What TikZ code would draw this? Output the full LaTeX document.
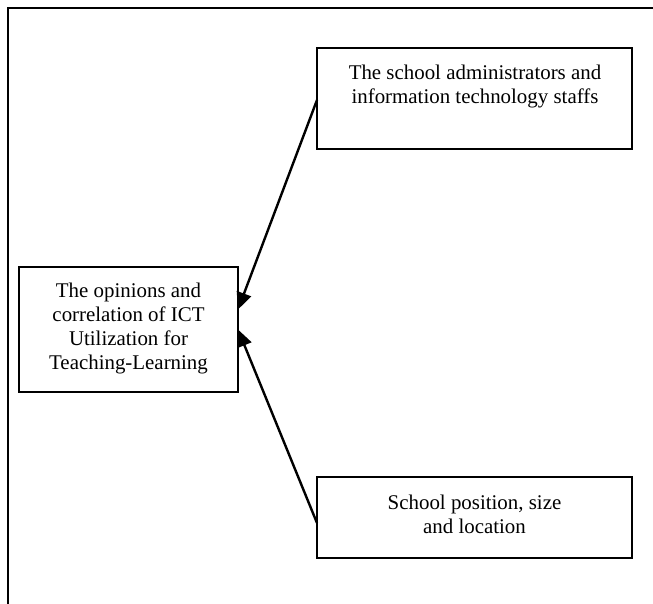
\documentclass[tikz,border=0pt]{standalone}
\usepackage{fontspec}
\setmainfont{Liberation Serif}
\usetikzlibrary{arrows.meta}
\tikzset{
  frameline/.style={line width=2pt, line cap=rect},
  boxnode/.style={draw, line width=1.8pt, rectangle, inner sep=0pt, outer sep=0pt},
  labeltext/.style={align=center, inner sep=0pt, anchor=base,
    font=\fontsize{20.9pt}{24pt}\selectfont},
  conn/.style={line width=2.4pt, -{Triangle[length=17pt,width=15pt]}}
}
\begin{document}
\begin{tikzpicture}[x=1pt, y=-1pt]
\useasboundingbox (0,0) rectangle (653,603);
% outer frame (only top and left edges visible)
\coordinate (ftr) at (653,8);
\coordinate (ftl) at (8,8);
\coordinate (fbl) at (8,603);
\draw[frameline] (ftr) -- (ftl) -- (fbl);
% boxes
\node[boxnode, minimum width=219pt, minimum height=125pt] (lbox) at (128.5,329.5) {};
\node[boxnode, minimum width=315pt, minimum height=101pt] (tbox) at (474.5,98.5) {};
\node[boxnode, minimum width=315pt, minimum height=81pt] (bbox) at (474.5,517.5) {};
% texts (base anchor = baseline of the last line)
\node[labeltext] (ltext) at (128.5,369) {The opinions and\\correlation of ICT\\Utilization for\\Teaching-Learning};
\node[labeltext] (ttext) at (475,103) {The school administrators and\\information technology staffs};
\node[labeltext] (btext) at (474.5,533) {School position, size\\and location};
% connectors
\draw[conn] ([yshift=-1.5pt]tbox.west) -- ([yshift=20pt]lbox.east);
\draw[conn] ([yshift=-5.5pt]bbox.west) -- ([yshift=0pt]lbox.east);
\end{tikzpicture}
\end{document}
